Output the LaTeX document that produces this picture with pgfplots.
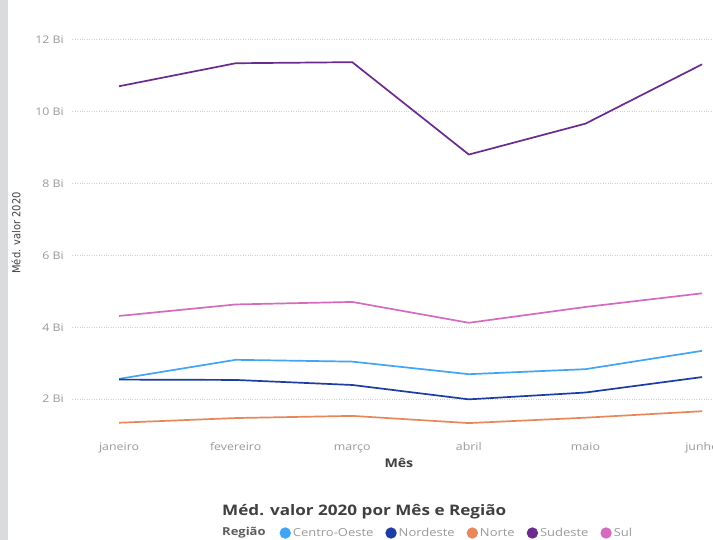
\documentclass[border=0pt]{standalone}
\usepackage{pgfplots}
\pgfplotsset{compat=1.18}
\usepackage{fontspec}
\setmainfont{Open Sans}[FakeStretch=1.18]
\newfontfamily\condfont{DejaVu Sans Condensed}
\definecolor{cCO}{HTML}{41A5F5}
\definecolor{cNE}{HTML}{1C3DA3}
\definecolor{cNO}{HTML}{E8875A}
\definecolor{cSE}{HTML}{6A2A8E}
\definecolor{cSU}{HTML}{D46BC0}
\definecolor{gridc}{HTML}{D0D0D0}
\definecolor{tickc}{HTML}{9A9A9A}
\definecolor{darkt}{HTML}{404040}
\definecolor{barc}{HTML}{DADBDD}

\pgfplotstableread{
m  co    ne    no    se     su
0  2.56  2.54  1.34  10.70  4.31
1  3.09  2.53  1.47  11.34  4.63
2  3.04  2.39  1.53  11.37  4.70
3  2.69  1.99  1.33  8.80   4.12
4  2.83  2.18  1.48  9.66   4.56
5  3.34  2.61  1.66  11.31  4.94
}\datatable

\begin{document}
\begin{tikzpicture}[x=1pt,y=1pt]
\fill[white] (0,0) rectangle (713,540);
\fill[barc] (0,0) rectangle (8,540);
\begin{axis}[
  at={(72.4pt,105.05pt)}, anchor=south west,
  scale only axis, width=653pt, height=409.8pt,
  xmin=-0.4, xmax=5.2, ymin=1, ymax=12.4,
  axis line style={draw=none},
  major tick length=0pt,
  typeset ticklabels with strut,
  xtick={0,...,5}, xticklabels={janeiro,fevereiro,março,abril,maio,junho},
  ytick={2,4,...,12}, yticklabels={2 Bi,4 Bi,6 Bi,8 Bi,10 Bi,12 Bi},
  ymajorgrids, grid style={dotted, gridc, line width=0.9pt},
  tick label style={font=\fontsize{10.5}{12}\selectfont, text=tickc},
  xticklabel style={yshift=-4pt},
  yticklabel style={xshift=-5pt, yshift=-1.5pt},
  xlabel={Mês},
  xlabel style={font=\fontsize{12}{14}\selectfont\bfseries, text=darkt, yshift=3pt},
  ylabel={Méd. valor 2020},
  ylabel style={font=\condfont\fontsize{11}{13}\selectfont, text=darkt, at={(axis description cs:-0.074,0.493)}},
  clip=false,
  legend columns=-1,
  legend style={draw=none, fill=none, at={(axis description cs:0.317,-0.2393)}, anchor=west,
    font=\fontsize{11}{13}\selectfont, text=tickc, inner sep=0pt,
    /tikz/every even column/.style={column sep=10pt}},
  legend image code/.code={\fill (1pt,0pt) circle (4.8pt);},
  every axis plot/.append style={line width=1.7pt, line join=round},
]
\addplot[cCO] table[x=m,y=co]{\datatable};
\addlegendentry{Centro-Oeste}
\addplot[cNE] table[x=m,y=ne]{\datatable};
\addlegendentry{Nordeste}
\addplot[cNO] table[x=m,y=no]{\datatable};
\addlegendentry{Norte}
\addplot[cSE] table[x=m,y=se]{\datatable};
\addlegendentry{Sudeste}
\addplot[cSU] table[x=m,y=su]{\datatable};
\addlegendentry{Sul}
\end{axis}
\node[anchor=base west, inner sep=0pt, font=\fontsize{14.5}{17}\selectfont\bfseries, text=darkt] at (222,24) {Méd. valor 2020 por Mês e Região};
\node[anchor=west, inner sep=0pt, font=\fontsize{11}{13}\selectfont\bfseries, text=darkt!85] at (222,7) {Região};
\pgfresetboundingbox
\useasboundingbox (0,0) rectangle (713,540);
\end{tikzpicture}
\end{document}
